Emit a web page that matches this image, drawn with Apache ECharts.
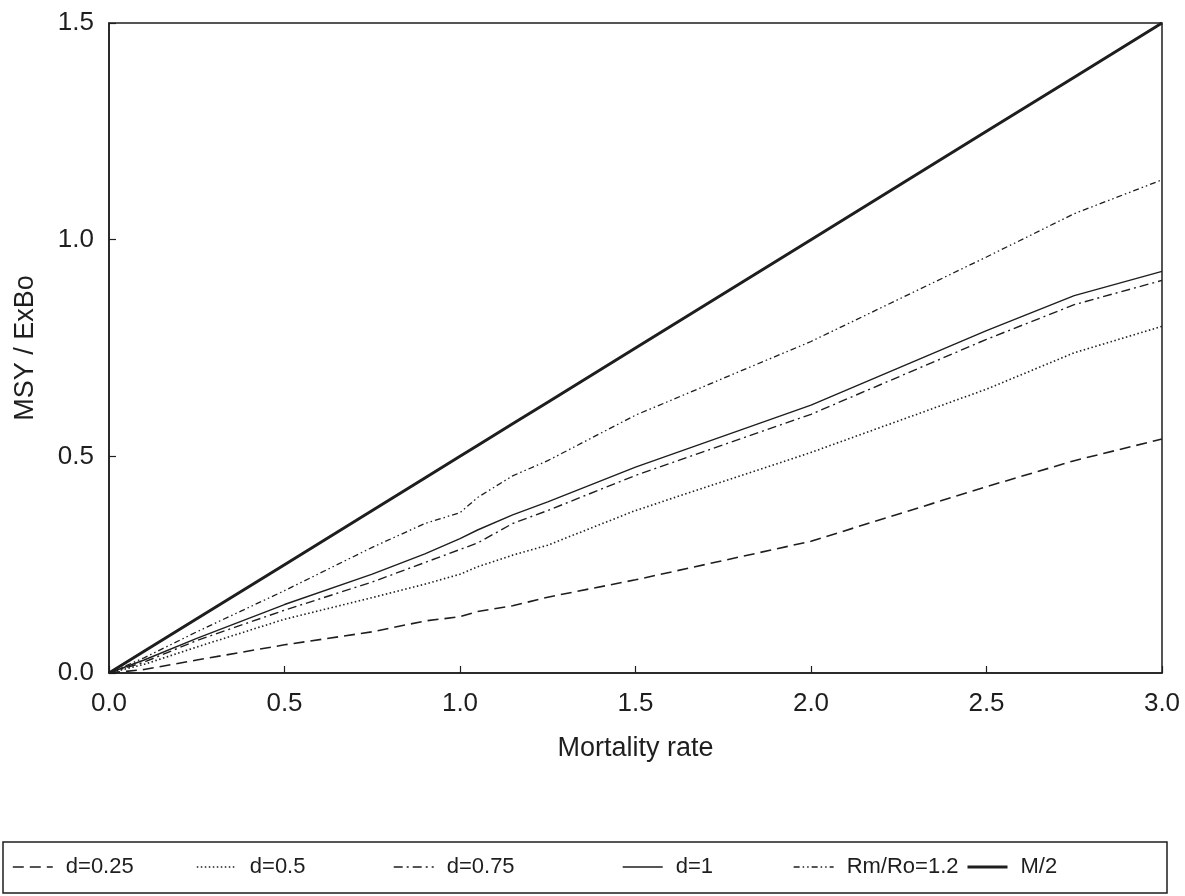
<!DOCTYPE html>
<html>
<head>
<meta charset="utf-8">
<script src="https://cdn.jsdelivr.net/npm/echarts@6/dist/echarts.min.js"></script>
<style>
html,body{margin:0;padding:0;background:#fff;}
#chart{width:1185px;height:896px;}
</style>
</head>
<body>
<div id="chart"></div>
<script>
// Data
var mortality = [0, 0.1, 0.25, 0.5, 0.75, 0.9, 1.0, 1.05, 1.15, 1.25, 1.5, 2.0, 2.5, 2.75, 3.0];
var d025 = [0, 0.008, 0.03, 0.065, 0.095, 0.12, 0.13, 0.142, 0.155, 0.175, 0.215, 0.304, 0.43, 0.49, 0.54];
var d05  = [0, 0.02, 0.06, 0.124, 0.174, 0.205, 0.228, 0.245, 0.272, 0.295, 0.375, 0.509, 0.655, 0.739, 0.80];
var d075 = [0, 0.025, 0.075, 0.145, 0.21, 0.255, 0.285, 0.30, 0.345, 0.375, 0.456, 0.597, 0.77, 0.85, 0.906];
var d1   = [0, 0.03, 0.08, 0.158, 0.228, 0.275, 0.31, 0.33, 0.365, 0.395, 0.475, 0.618, 0.79, 0.871, 0.927];
var rmro = [0, 0.035, 0.095, 0.19, 0.29, 0.345, 0.37, 0.405, 0.455, 0.49, 0.595, 0.765, 0.96, 1.06, 1.138];
var m2   = [0, 0.05, 0.125, 0.25, 0.375, 0.45, 0.5, 0.525, 0.575, 0.625, 0.75, 1.0, 1.25, 1.375, 1.5];
var seriesNames = ['d=0.25', 'd=0.5', 'd=0.75', 'd=1', 'Rm/Ro=1.2', 'M/2'];
var xTicks = [0, 0.5, 1.0, 1.5, 2.0, 2.5, 3.0];
var yTicks = [0, 0.5, 1.0, 1.5];

var INK = '#1e1e1e';
var FONT = '"Liberation Sans", Arial, sans-serif';

function pairs(ys) { return mortality.map(function (x, i) { return [x, ys[i]]; }); }

var styles = [
  {type: [11, 6], width: 1.6},
  {type: [1.5, 2.5], width: 1.6},
  {type: [9, 4, 2, 4], width: 1.4},
  {type: 'solid', width: 1.4},
  {type: [6, 3, 1.5, 3, 1.5, 3], width: 1.3},
  {type: 'solid', width: 3}
];
var dataSets = [d025, d05, d075, d1, rmro, m2];

var series = seriesNames.map(function (n, i) {
  return {
    name: n, type: 'line', symbol: 'none', showSymbol: false, silent: true, animation: false,
    data: pairs(dataSets[i]),
    lineStyle: {color: INK, width: styles[i].width, type: styles[i].type},
    itemStyle: {color: INK}
  };
});

var legendLefts = [12, 196, 393, 622, 793, 966];
var legends = seriesNames.map(function (n, i) {
  return {
    data: [n], left: legendLefts[i], top: 856,
    itemWidth: 40, itemHeight: 14, itemGap: 0,
    itemStyle: {opacity: 0},
    lineStyle: {width: styles[i].width, type: styles[i].type, color: INK},
    textStyle: {fontFamily: FONT, fontSize: 22, color: INK, padding: [0, 0, 0, 8]},
    selectedMode: false, padding: 0
  };
});

var chart = echarts.init(document.getElementById('chart'));
chart.setOption({
  backgroundColor: '#fff',
  animation: false,
  grid: {left: 109, right: 23, top: 23, bottom: 223, show: true, borderColor: INK, borderWidth: 1.5},
  xAxis: {
    type: 'value', min: 0, max: 3, interval: 0.5,
    name: 'Mortality rate', nameLocation: 'middle', nameGap: 62,
    nameTextStyle: {fontFamily: FONT, fontSize: 27, color: INK},
    axisLine: {show: true, lineStyle: {color: INK, width: 1.5}},
    axisTick: {show: true, inside: true, length: 7, lineStyle: {color: INK, width: 1.2}},
    axisLabel: {fontFamily: FONT, fontSize: 26, color: INK, margin: 18,
      formatter: function (v) { return xTicks.indexOf(v) >= 0 ? v.toFixed(1) : ''; }},
    splitLine: {show: false}
  },
  yAxis: {
    type: 'value', min: 0, max: 1.5, interval: 0.5,
    name: 'MSY / ExBo', nameLocation: 'middle', nameGap: 70, nameRotate: 90,
    nameTextStyle: {fontFamily: FONT, fontSize: 27, color: INK},
    axisLine: {show: true, lineStyle: {color: INK, width: 1.5}},
    axisTick: {show: true, inside: true, length: 7, lineStyle: {color: INK, width: 1.2}},
    axisLabel: {fontFamily: FONT, fontSize: 26, color: INK, margin: 15,
      formatter: function (v) { return yTicks.indexOf(v) >= 0 ? v.toFixed(1) : ''; }},
    splitLine: {show: false}
  },
  legend: legends,
  graphic: [{
    type: 'rect', shape: {x: 3, y: 842, width: 1164, height: 51},
    style: {fill: 'none', stroke: INK, lineWidth: 1.5}, silent: true
  }],
  series: series
});
</script>
</body>
</html>
